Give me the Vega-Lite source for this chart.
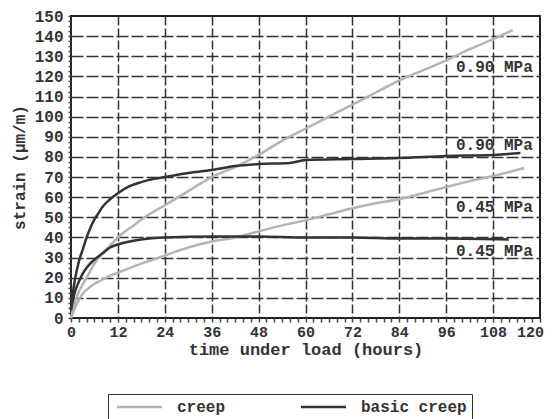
{
  "$schema": "https://vega.github.io/schema/vega-lite/v6.json",
  "width": 469,
  "height": 302,
  "autosize": "none",
  "padding": {"left": 71, "top": 16, "right": 13, "bottom": 101},
  "background": "white",
  "config": {
    "view": {"stroke": "#222", "strokeWidth": 2},
    "font": "Liberation Mono",
    "axis": {"domain": false},
    "legend": {"strokeColor": "#333"}
  },
  "datasets": {
    "curves": [
      {"t": 0, "v": 0, "type": "creep", "stress": "0.90"},
      {"t": 1, "v": 8, "type": "creep", "stress": "0.90"},
      {"t": 2, "v": 13, "type": "creep", "stress": "0.90"},
      {"t": 4, "v": 20, "type": "creep", "stress": "0.90"},
      {"t": 6, "v": 27, "type": "creep", "stress": "0.90"},
      {"t": 8, "v": 32, "type": "creep", "stress": "0.90"},
      {"t": 10, "v": 36, "type": "creep", "stress": "0.90"},
      {"t": 12, "v": 40, "type": "creep", "stress": "0.90"},
      {"t": 16, "v": 46, "type": "creep", "stress": "0.90"},
      {"t": 20, "v": 51.5, "type": "creep", "stress": "0.90"},
      {"t": 24, "v": 56, "type": "creep", "stress": "0.90"},
      {"t": 30, "v": 63, "type": "creep", "stress": "0.90"},
      {"t": 36, "v": 70, "type": "creep", "stress": "0.90"},
      {"t": 42, "v": 75, "type": "creep", "stress": "0.90"},
      {"t": 48, "v": 81, "type": "creep", "stress": "0.90"},
      {"t": 54, "v": 88, "type": "creep", "stress": "0.90"},
      {"t": 60, "v": 94, "type": "creep", "stress": "0.90"},
      {"t": 66, "v": 100, "type": "creep", "stress": "0.90"},
      {"t": 72, "v": 106, "type": "creep", "stress": "0.90"},
      {"t": 78, "v": 112, "type": "creep", "stress": "0.90"},
      {"t": 84, "v": 118, "type": "creep", "stress": "0.90"},
      {"t": 90, "v": 123, "type": "creep", "stress": "0.90"},
      {"t": 96, "v": 128, "type": "creep", "stress": "0.90"},
      {"t": 102, "v": 133.5, "type": "creep", "stress": "0.90"},
      {"t": 108, "v": 138.5, "type": "creep", "stress": "0.90"},
      {"t": 113, "v": 143, "type": "creep", "stress": "0.90"},

      {"t": 0, "v": 5, "type": "basic creep", "stress": "0.90"},
      {"t": 0.5, "v": 13, "type": "basic creep", "stress": "0.90"},
      {"t": 1, "v": 19, "type": "basic creep", "stress": "0.90"},
      {"t": 2, "v": 28, "type": "basic creep", "stress": "0.90"},
      {"t": 3, "v": 34, "type": "basic creep", "stress": "0.90"},
      {"t": 4, "v": 40, "type": "basic creep", "stress": "0.90"},
      {"t": 5, "v": 45, "type": "basic creep", "stress": "0.90"},
      {"t": 6, "v": 49, "type": "basic creep", "stress": "0.90"},
      {"t": 7, "v": 52, "type": "basic creep", "stress": "0.90"},
      {"t": 8, "v": 55, "type": "basic creep", "stress": "0.90"},
      {"t": 10, "v": 59, "type": "basic creep", "stress": "0.90"},
      {"t": 12, "v": 62, "type": "basic creep", "stress": "0.90"},
      {"t": 15, "v": 65.5, "type": "basic creep", "stress": "0.90"},
      {"t": 18, "v": 67.5, "type": "basic creep", "stress": "0.90"},
      {"t": 21, "v": 69, "type": "basic creep", "stress": "0.90"},
      {"t": 24, "v": 70, "type": "basic creep", "stress": "0.90"},
      {"t": 30, "v": 72, "type": "basic creep", "stress": "0.90"},
      {"t": 36, "v": 73.5, "type": "basic creep", "stress": "0.90"},
      {"t": 42, "v": 75.5, "type": "basic creep", "stress": "0.90"},
      {"t": 48, "v": 76.5, "type": "basic creep", "stress": "0.90"},
      {"t": 56, "v": 77, "type": "basic creep", "stress": "0.90"},
      {"t": 60, "v": 78.5, "type": "basic creep", "stress": "0.90"},
      {"t": 72, "v": 79, "type": "basic creep", "stress": "0.90"},
      {"t": 84, "v": 79.5, "type": "basic creep", "stress": "0.90"},
      {"t": 96, "v": 80.5, "type": "basic creep", "stress": "0.90"},
      {"t": 108, "v": 81, "type": "basic creep", "stress": "0.90"},
      {"t": 115, "v": 82, "type": "basic creep", "stress": "0.90"},

      {"t": 0, "v": 0, "type": "creep", "stress": "0.45"},
      {"t": 1, "v": 5, "type": "creep", "stress": "0.45"},
      {"t": 2, "v": 9, "type": "creep", "stress": "0.45"},
      {"t": 3, "v": 12, "type": "creep", "stress": "0.45"},
      {"t": 4, "v": 14, "type": "creep", "stress": "0.45"},
      {"t": 6, "v": 17, "type": "creep", "stress": "0.45"},
      {"t": 8, "v": 19, "type": "creep", "stress": "0.45"},
      {"t": 10, "v": 21, "type": "creep", "stress": "0.45"},
      {"t": 12, "v": 22.5, "type": "creep", "stress": "0.45"},
      {"t": 18, "v": 27, "type": "creep", "stress": "0.45"},
      {"t": 24, "v": 31, "type": "creep", "stress": "0.45"},
      {"t": 30, "v": 35, "type": "creep", "stress": "0.45"},
      {"t": 36, "v": 38, "type": "creep", "stress": "0.45"},
      {"t": 42, "v": 40, "type": "creep", "stress": "0.45"},
      {"t": 48, "v": 43, "type": "creep", "stress": "0.45"},
      {"t": 54, "v": 46, "type": "creep", "stress": "0.45"},
      {"t": 60, "v": 48.5, "type": "creep", "stress": "0.45"},
      {"t": 66, "v": 51.5, "type": "creep", "stress": "0.45"},
      {"t": 72, "v": 54.5, "type": "creep", "stress": "0.45"},
      {"t": 78, "v": 57, "type": "creep", "stress": "0.45"},
      {"t": 84, "v": 59, "type": "creep", "stress": "0.45"},
      {"t": 90, "v": 62, "type": "creep", "stress": "0.45"},
      {"t": 96, "v": 65, "type": "creep", "stress": "0.45"},
      {"t": 102, "v": 68, "type": "creep", "stress": "0.45"},
      {"t": 108, "v": 70.5, "type": "creep", "stress": "0.45"},
      {"t": 116, "v": 74.5, "type": "creep", "stress": "0.45"},

      {"t": 0, "v": 4, "type": "basic creep", "stress": "0.45"},
      {"t": 0.5, "v": 9, "type": "basic creep", "stress": "0.45"},
      {"t": 1, "v": 13, "type": "basic creep", "stress": "0.45"},
      {"t": 2, "v": 18, "type": "basic creep", "stress": "0.45"},
      {"t": 3, "v": 22, "type": "basic creep", "stress": "0.45"},
      {"t": 4, "v": 25, "type": "basic creep", "stress": "0.45"},
      {"t": 6, "v": 29, "type": "basic creep", "stress": "0.45"},
      {"t": 8, "v": 32, "type": "basic creep", "stress": "0.45"},
      {"t": 10, "v": 35, "type": "basic creep", "stress": "0.45"},
      {"t": 12, "v": 36.5, "type": "basic creep", "stress": "0.45"},
      {"t": 15, "v": 38, "type": "basic creep", "stress": "0.45"},
      {"t": 18, "v": 39, "type": "basic creep", "stress": "0.45"},
      {"t": 24, "v": 40, "type": "basic creep", "stress": "0.45"},
      {"t": 36, "v": 40.5, "type": "basic creep", "stress": "0.45"},
      {"t": 48, "v": 40.5, "type": "basic creep", "stress": "0.45"},
      {"t": 60, "v": 40, "type": "basic creep", "stress": "0.45"},
      {"t": 72, "v": 40, "type": "basic creep", "stress": "0.45"},
      {"t": 84, "v": 39.5, "type": "basic creep", "stress": "0.45"},
      {"t": 96, "v": 39.5, "type": "basic creep", "stress": "0.45"},
      {"t": 112, "v": 39, "type": "basic creep", "stress": "0.45"}
    ],
    "labels": [
      {"t": 98.5, "v": 124.8, "label": "0.90 MPa"},
      {"t": 98.5, "v": 86, "label": "0.90 MPa"},
      {"t": 98.5, "v": 55.3, "label": "0.45 MPa"},
      {"t": 98.5, "v": 33.4, "label": "0.45 MPa"}
    ]
  },
  "layer": [
    {
      "data": {"name": "curves"},
      "mark": {"type": "line", "interpolate": "monotone", "strokeWidth": 2.5},
      "encoding": {
        "x": {
          "field": "t", "type": "quantitative",
          "scale": {"domain": [0, 120], "nice": false},
          "axis": {
            "title": "time under load (hours)",
            "format": "d",
            "tickCount": 200,
            "values": [0,2,4,6,8,10,12,14,16,18,20,22,24,26,28,30,32,34,36,38,40,42,44,46,48,50,52,54,56,58,60,62,64,66,68,70,72,74,76,78,80,82,84,86,88,90,92,94,96,98,100,102,104,106,108,110,112,114,116,118,120],
            "labelExpr": "datum.value % 12 === 0 ? datum.label : ''",
            "labelOverlap": false,
            "labelFlush": false,
            "labelOffset": {"condition": {"test": "datum.value === 120", "value": -10}, "value": 0},
            "labelFont": "Liberation Mono",
            "labelFontWeight": "bold",
            "labelFontSize": 15,
            "labelColor": "#333",
            "labelPadding": 2,
            "tickSize": 4,
            "tickColor": "#444",
            "tickWidth": 1.5,
            "grid": true,
            "gridColor": "#333",
            "gridWidth": 1.5,
            "gridDash": [9, 3],
            "gridOpacity": {"condition": {"test": "datum.value % 12 === 0 && datum.value > 0 && datum.value < 120", "value": 1}, "value": 0},
            "titleFont": "Liberation Mono",
            "titleFontWeight": "bold",
            "titleFontSize": 17,
            "titleColor": "#333",
            "titlePadding": 2
          }
        },
        "y": {
          "field": "v", "type": "quantitative",
          "scale": {"domain": [0, 150], "nice": false},
          "axis": {
            "title": "strain (μm/m)",
            "format": "d",
            "tickCount": 200,
            "values": [0,2.5,5,7.5,10,12.5,15,17.5,20,22.5,25,27.5,30,32.5,35,37.5,40,42.5,45,47.5,50,52.5,55,57.5,60,62.5,65,67.5,70,72.5,75,77.5,80,82.5,85,87.5,90,92.5,95,97.5,100,102.5,105,107.5,110,112.5,115,117.5,120,122.5,125,127.5,130,132.5,135,137.5,140,142.5,145,147.5,150],
            "labelExpr": "datum.value % 10 === 0 ? datum.label : ''",
            "labelOverlap": false,
            "labelFlush": false,
            "labelFont": "Liberation Mono",
            "labelFontWeight": "bold",
            "labelFontSize": 16,
            "labelColor": "#333",
            "labelPadding": 5,
            "tickSize": 3,
            "tickColor": "#444",
            "tickWidth": 1.5,
            "grid": true,
            "gridColor": "#333",
            "gridWidth": 1.5,
            "gridDash": [12, 3],
            "gridOpacity": {"condition": {"test": "datum.value % 10 === 0 && datum.value > 0 && datum.value < 150", "value": 1}, "value": 0},
            "titleFont": "Liberation Mono",
            "titleFontWeight": "bold",
            "titleFontSize": 16,
            "titleColor": "#333",
            "titlePadding": 7
          }
        },
        "color": {
          "field": "type", "type": "nominal",
          "scale": {"domain": ["creep", "basic creep"], "range": ["#b4b4b4", "#333333"]},
          "legend": {
            "title": null,
            "orient": "none",
            "legendX": 37,
            "legendY": 378,
            "direction": "horizontal",
            "columns": 2,
            "columnPadding": 70,
            "symbolType": "M-0.8,0H8.2",
            "symbolSize": 100,
            "symbolStrokeWidth": 2.5,
            "strokeColor": "#333",
            "padding": 5,
            "labelFont": "Liberation Mono",
            "labelFontWeight": "bold",
            "labelFontSize": 16,
            "labelColor": "#333",
            "labelOffset": 48
          }
        },
        "detail": {"field": "stress", "type": "nominal"}
      }
    },
    {
      "data": {"name": "labels"},
      "mark": {"type": "text", "align": "left", "baseline": "middle", "font": "Liberation Mono", "fontWeight": "bold", "fontSize": 16, "color": "#333"},
      "encoding": {
        "x": {"field": "t", "type": "quantitative"},
        "y": {"field": "v", "type": "quantitative"},
        "text": {"field": "label"}
      }
    }
  ]
}
